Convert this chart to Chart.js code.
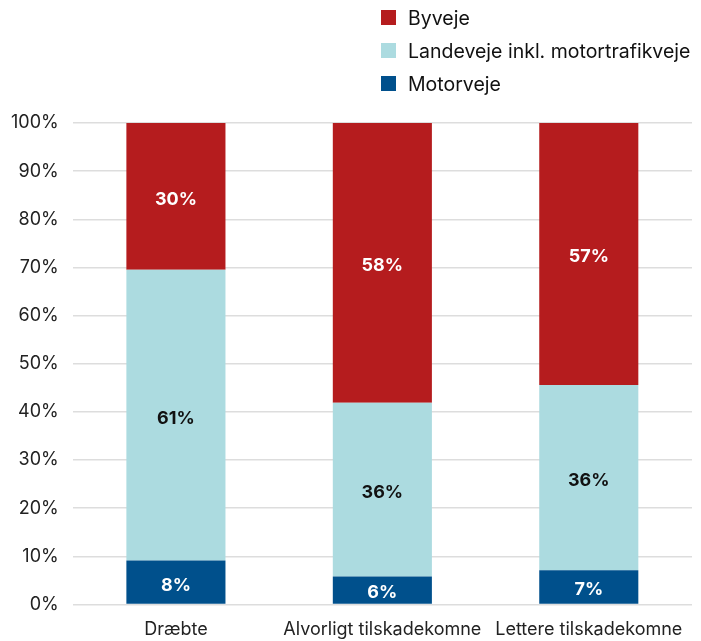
<!DOCTYPE html>
<html>
<head>
<meta charset="utf-8">
<script src="https://cdn.jsdelivr.net/npm/chart.js@4"></script>
<style>
  body { margin: 0; background: #fff; font-family: Inter, "Noto Sans", sans-serif; }
  #wrap { position: relative; width: 701px; height: 641px; }
  #legend { position: absolute; left: 381px; top: 1px; font-size: 19.5px; color: #111; }
  .item { display: flex; align-items: center; height: 33px; }
  .box { width: 15px; height: 15px; margin-right: 12px; }
</style>
</head>
<body>
<div id="wrap">
  <canvas id="roadChart" width="701" height="641"></canvas>
  <div id="legend"></div>
</div>
<script>
const categories = ["Dræbte", "Alvorligt tilskadekomne", "Lettere tilskadekomne"];
const seriesNames = ["Motorveje", "Landeveje inkl. motortrafikveje", "Byveje"];
const motorveje = [9.1, 5.8, 7.1];
const landeveje = [60.4, 36.1, 38.5];
const byveje = [30.5, 58.1, 54.4];
// labels as printed in the original (rounded figures)
const motorvejeLabels = ["8%", "6%", "7%"];
const landevejeLabels = ["61%", "36%", "36%"];
const byvejeLabels = ["30%", "58%", "57%"];
const yTicks = [0, 10, 20, 30, 40, 50, 60, 70, 80, 90, 100];

const colors = ["#00508c", "#acdbe0", "#b51c1e"];
const labelColors = ["#ffffff", "#111111", "#ffffff"];
const allValues = [motorveje, landeveje, byveje];
const allLabels = [motorvejeLabels, landevejeLabels, byvejeLabels];

// legend, top series first
const legend = document.getElementById("legend");
for (let i = seriesNames.length - 1; i >= 0; i--) {
  const item = document.createElement("div");
  item.className = "item";
  item.innerHTML = '<span class="box" style="background:' + colors[i] + '"></span>' + seriesNames[i];
  legend.appendChild(item);
}

const ctx = document.getElementById("roadChart").getContext("2d");
new Chart(ctx, {
  type: "bar",
  data: {
    labels: categories,
    datasets: seriesNames.map((name, i) => ({
      label: name,
      data: allValues[i],
      backgroundColor: colors[i],
      borderWidth: 0,
      barPercentage: 0.48,
      categoryPercentage: 1,
    })),
  },
  options: {
    responsive: false,
    animation: false,
    layout: { padding: { top: 123, right: 9, bottom: -5, left: -3 } },
    plugins: {
      legend: { display: false },
      tooltip: { enabled: false },
    },
    scales: {
      x: {
        stacked: true,
        grid: { display: false },
        border: { display: false },
        ticks: { color: "#222", font: { family: "Inter", size: 18 }, padding: 6 },
      },
      y: {
        stacked: true,
        min: 0,
        max: 100,
        afterBuildTicks: (axis) => { axis.ticks = yTicks.map((v) => ({ value: v })); },
        grid: { color: "#dddddd", lineWidth: 1.5, drawTicks: false },
        border: { display: false },
        ticks: {
          color: "#222",
          font: { family: "Inter", size: 18 },
          padding: 14,
          callback: (v) => v + "%",
        },
      },
    },
  },
  plugins: [
    {
      afterDatasetsDraw: function (chart) {
        const c = chart.ctx;
        c.save();
        c.font = "bold 18px Inter";
        c.textAlign = "center";
        c.textBaseline = "middle";
        chart.data.datasets.forEach(function (ds, i) {
          const meta = chart.getDatasetMeta(i);
          meta.data.forEach(function (bar, j) {
            c.fillStyle = labelColors[i];
            c.fillText(allLabels[i][j], bar.x, (bar.y + bar.base) / 2 + 3);
          });
        });
        c.restore();
      },
    },
  ],
});
</script>
</body>
</html>
